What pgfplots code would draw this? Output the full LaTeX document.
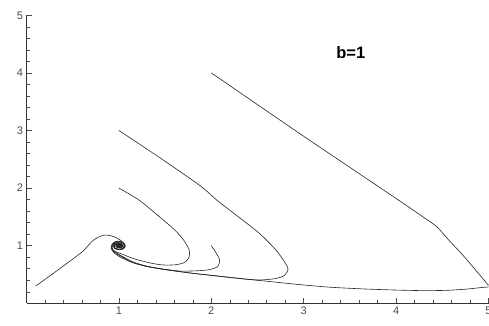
\documentclass[border=0pt]{standalone}
\usepackage{fontspec}
\setmainfont{Liberation Sans}
\usepackage{pgfplots}
\pgfplotsset{compat=1.18}
\begin{document}
\begin{tikzpicture}
\begin{axis}[
  at={(0,0)}, anchor=south west,
  scale only axis, width=462pt, height=288pt,
  xmin=0, xmax=5, ymin=0, ymax=5,
  axis lines=left,
  axis line style={-, black!80, line width=0.6pt},
  tick align=inside,
  tick style={black!70, line width=0.5pt},
  major tick length=5pt, minor tick length=3.5pt,
  xtick={1,2,3,4,5}, ytick={1,2,3,4,5},
  minor xtick={0.2,0.4,0.6,0.8,1.2,1.4,1.6,1.8,2.2,2.4,2.6,2.8,3.2,3.4,3.6,3.8,4.2,4.4,4.6,4.8},
  minor ytick={0.2,0.4,0.6,0.8,1.2,1.4,1.6,1.8,2.2,2.4,2.6,2.8,3.2,3.4,3.6,3.8,4.2,4.4,4.6,4.8},
  /pgf/number format/assume math mode=true,
  ticklabel style={font=\fontsize{11}{12}\selectfont, text=black!70},
  traj/.style={black!85, line width=0.6pt, no markers, smooth, tension=0.45},
]
% curve A from (0.1,0.3)
\addplot[traj] coordinates {(0.10,0.30) (0.35,0.59) (0.60,0.89) (0.66,0.99) (0.72,1.09) (0.78,1.15) (0.85,1.185) (0.92,1.17) (0.98,1.13) (1.03,1.08) (1.055,1.02) (1.05,0.97) (1.02,0.94) (0.98,0.935) (0.95,0.96) (0.94,1.00) (0.955,1.04) (0.99,1.055) (1.025,1.04) (1.04,1.00) (1.025,0.97) (0.995,0.965) (0.97,0.985) (0.97,1.015) (0.995,1.03) (1.02,1.015) (1.02,0.99) (1.0,0.98) (0.985,0.995) (0.995,1.01) (1.0,1.0)};
% curve B from (1,2)
\addplot[traj] coordinates {(1.0,2.0) (1.22,1.79) (1.44,1.50) (1.60,1.28) (1.70,1.10) (1.76,0.93) (1.76,0.80) (1.71,0.71) (1.62,0.67) (1.48,0.665) (1.34,0.70) (1.17,0.77) (1.04,0.85) (0.96,0.90) (0.93,0.94) (0.925,0.99) (0.94,1.04) (0.98,1.07) (1.03,1.06) (1.06,1.02) (1.06,0.97) (1.03,0.94) (0.98,0.94) (0.95,0.97) (0.95,1.01) (0.975,1.035) (1.01,1.035) (1.035,1.01) (1.03,0.98) (1.0,0.965) (0.975,0.985) (0.98,1.01) (1.0,1.02) (1.02,1.005) (1.01,0.985) (0.995,0.99) (1.0,1.0)};
% curve C from (2,1)
\addplot[traj] coordinates {(2.0,1.0) (2.05,0.88) (2.09,0.75) (2.07,0.64) (1.98,0.585) (1.85,0.565) (1.66,0.56) (1.45,0.60) (1.30,0.645) (1.15,0.72) (1.02,0.83) (0.95,0.90) (0.925,0.96) (0.935,1.02) (0.97,1.065) (1.02,1.065) (1.055,1.03) (1.06,0.98) (1.035,0.945) (0.99,0.94) (0.955,0.965) (0.95,1.005) (0.97,1.03) (1.005,1.035) (1.03,1.015) (1.03,0.985) (1.005,0.968) (0.978,0.982) (0.978,1.008) (0.998,1.02) (1.018,1.008) (1.012,0.988) (0.996,0.99) (1.0,1.0)};
% curve D from (1,3)
\addplot[traj] coordinates {(1.0,3.0) (1.45,2.52) (1.88,2.04) (2.06,1.79) (2.27,1.53) (2.52,1.215) (2.70,0.925) (2.80,0.70) (2.83,0.59) (2.79,0.48) (2.68,0.425) (2.52,0.405) (2.38,0.42) (2.10,0.47) (1.80,0.52) (1.50,0.585) (1.30,0.64) (1.15,0.71) (1.02,0.82) (0.95,0.89) (0.92,0.96) (0.93,1.02) (0.965,1.065) (1.015,1.07) (1.055,1.035) (1.065,0.985) (1.04,0.945) (0.995,0.935) (0.955,0.96) (0.945,1.0) (0.965,1.03) (1.0,1.04) (1.03,1.02) (1.035,0.985) (1.01,0.965) (0.98,0.975) (0.975,1.005) (0.993,1.022) (1.015,1.012) (1.015,0.99) (0.998,0.985) (0.992,1.0) (1.0,1.0)};
% curve E from (2,4)
\addplot[traj] coordinates {(2.0,4.0) (3.0,2.90) (4.0,1.82) (4.30,1.49) (4.44,1.33) (4.58,1.08) (4.72,0.84) (4.88,0.54) (4.99,0.33) (5.02,0.29) (4.93,0.275) (4.75,0.245) (4.54,0.225) (4.30,0.22) (4.0,0.23) (3.64,0.25) (3.28,0.28) (2.92,0.33) (2.56,0.39) (2.30,0.43) (2.02,0.48) (1.66,0.55) (1.34,0.63) (1.15,0.705) (1.0,0.815) (0.94,0.89) (0.915,0.96) (0.925,1.025) (0.96,1.07) (1.01,1.08) (1.055,1.045) (1.07,0.99) (1.045,0.945) (1.0,0.93) (0.955,0.95) (0.94,0.995) (0.955,1.035) (0.995,1.05) (1.035,1.03) (1.045,0.99) (1.02,0.96) (0.985,0.962) (0.965,0.99) (0.975,1.022) (1.005,1.03) (1.025,1.008) (1.015,0.982) (0.992,0.982) (0.985,1.002) (1.0,1.012) (1.01,1.0) (1.0,1.0)};
\node[font=\fontsize{16.5}{18}\selectfont\bfseries] at (axis cs:3.51,4.35) {b=1};
\end{axis}
\pgfresetboundingbox
\path[use as bounding box] (-26.5pt,-22.7pt) rectangle (462.5pt,303.3pt);
\end{tikzpicture}
\end{document}
